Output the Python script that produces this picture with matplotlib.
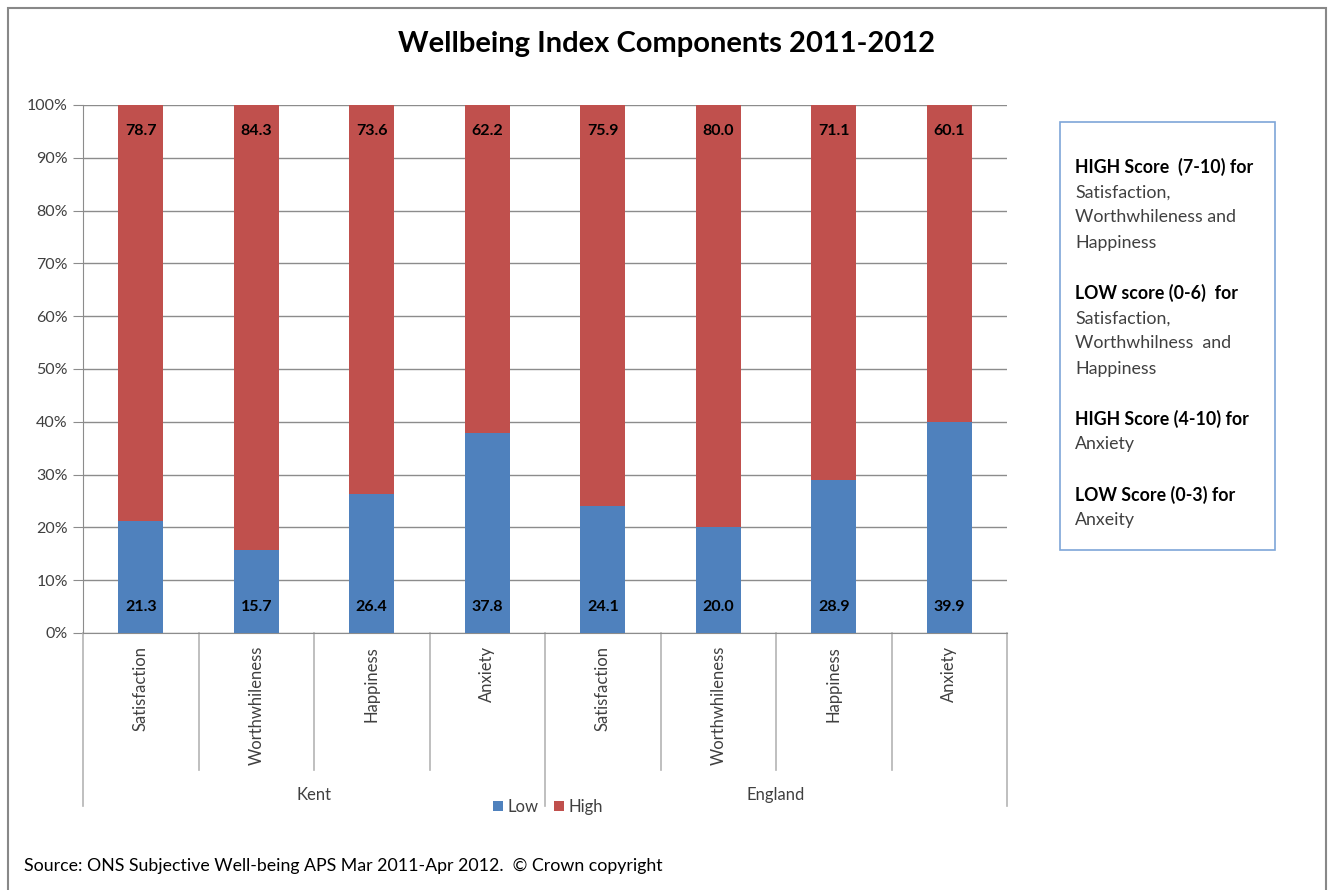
import matplotlib
matplotlib.use("Agg")
import matplotlib.pyplot as plt
from matplotlib.patches import Rectangle
import numpy as np

plt.rcParams['font.family'] = ['Lato', 'DejaVu Sans']

# stacked shares (percent) for each wellbeing component
groups = ["Kent", "England"]
components = ["Satisfaction", "Worthwhileness", "Happiness", "Anxiety"]
low = [21.3, 15.7, 26.4, 37.8, 24.1, 20.0, 28.9, 39.9]
high = [78.7, 84.3, 73.6, 62.2, 75.9, 80.0, 71.1, 60.1]
y_ticks = [0, 10, 20, 30, 40, 50, 60, 70, 80, 90, 100]

note_lines = [
    ("HIGH Score  (7-10) for", True),
    ("Satisfaction,", False),
    ("Worthwhileness and", False),
    ("Happiness", False),
    ("", False),
    ("LOW score (0-6)  for", True),
    ("Satisfaction,", False),
    ("Worthwhilness  and", False),
    ("Happiness", False),
    ("", False),
    ("HIGH Score (4-10) for", True),
    ("Anxiety", False),
    ("", False),
    ("LOW Score (0-3) for", True),
    ("Anxeity", False),
]

BLUE = "#4f81bd"
RED = "#c0504d"
GRID = "#8c8c8c"
TXT = "#404040"

W, H = 1332, 890
fig = plt.figure(figsize=(W / 100, H / 100), dpi=100)


def fx(x):
    return x / W


def fy(y):
    return 1 - y / H


# outer chart frame
fig.patches.append(Rectangle((fx(8), fy(896)), fx(1326) - fx(8), fy(8) - fy(896),
                             transform=fig.transFigure, fill=False,
                             edgecolor="#888888", lw=1.5))

ax = fig.add_axes([fx(83), fy(633), fx(1007) - fx(83), fy(105) - fy(633)])

labels = components * len(groups)
x = np.arange(len(labels))
b_low = ax.bar(x, low, width=0.39, color=BLUE, label="Low", zorder=3)
b_high = ax.bar(x, high, bottom=low, width=0.39, color=RED, label="High", zorder=3)

for i in range(len(x)):
    ax.text(x[i], 5, f"{low[i]:.1f}", ha="center", va="center",
            fontsize=11.5, fontweight="bold", color="black", zorder=4)
    ax.text(x[i], 95, f"{high[i]:.1f}", ha="center", va="center",
            fontsize=11.5, fontweight="bold", color="black", zorder=4)

ax.set_xlim(-0.5, len(x) - 0.5)
ax.set_ylim(0, 100)
ax.set_yticks(y_ticks)
ax.set_yticklabels([f"{t}%" for t in y_ticks], fontsize=11.5, color=TXT)
ax.tick_params(axis="y", length=7, color=GRID, pad=4)
ax.set_xticks([])
ax.yaxis.grid(True, color=GRID, lw=1)
ax.set_axisbelow(True)
for s in ["top", "right"]:
    ax.spines[s].set_visible(False)
ax.spines["left"].set_color(GRID)
ax.spines["bottom"].set_color(GRID)

# two-level category axis
tr = ax.get_xaxis_transform()
inner_end = (633 - 770) / 528
outer_end = (633 - 806) / 528
for b in np.arange(-0.5, len(x), 1.0):
    is_outer = abs((b + 0.5) % len(components)) < 1e-9
    ax.plot([b, b], [0, outer_end if is_outer else inner_end], transform=tr,
            color="#b4b4b4", lw=1.2, clip_on=False)
for i, lab in enumerate(labels):
    ax.text(x[i], (633 - 646) / 528, lab, transform=tr, rotation=90,
            ha="center", va="top", fontsize=12, color=TXT)
for g, name in enumerate(groups):
    cx = g * len(components) + (len(components) - 1) / 2
    ax.text(cx, (633 - 795) / 528, name, transform=tr, ha="center",
            va="center", fontsize=12, color=TXT)

fig.legend(handles=[b_low, b_high], loc="center", bbox_to_anchor=(fx(548), fy(807)),
           ncol=2, frameon=False, fontsize=12, handlelength=0.6, handleheight=0.6,
           handletextpad=0.3, columnspacing=0.9, labelcolor=TXT)

fig.text(fx(667), fy(44), "Wellbeing Index Components 2011-2012", ha="center",
         va="center", fontsize=21, fontweight="bold", color="black")

# explanatory note box
fig.patches.append(Rectangle((fx(1060), fy(550)), fx(1275) - fx(1060), fy(122) - fy(550),
                             transform=fig.transFigure, fill=False,
                             edgecolor="#7ea6d8", lw=1.2))
for k, (line, bold) in enumerate(note_lines):
    if not line:
        continue
    fig.text(fx(1075), fy(167 + 25.2 * k), line, ha="left", va="center",
             fontsize=12.8, fontweight="bold" if bold else "normal",
             color="black" if bold else TXT)

fig.text(fx(24), fy(866), "Source: ONS Subjective Well-being APS Mar 2011-Apr 2012.  \u00a9 Crown copyright",
         ha="left", va="center", fontsize=12.8, color="black")

fig.savefig("out.png", dpi=100)
